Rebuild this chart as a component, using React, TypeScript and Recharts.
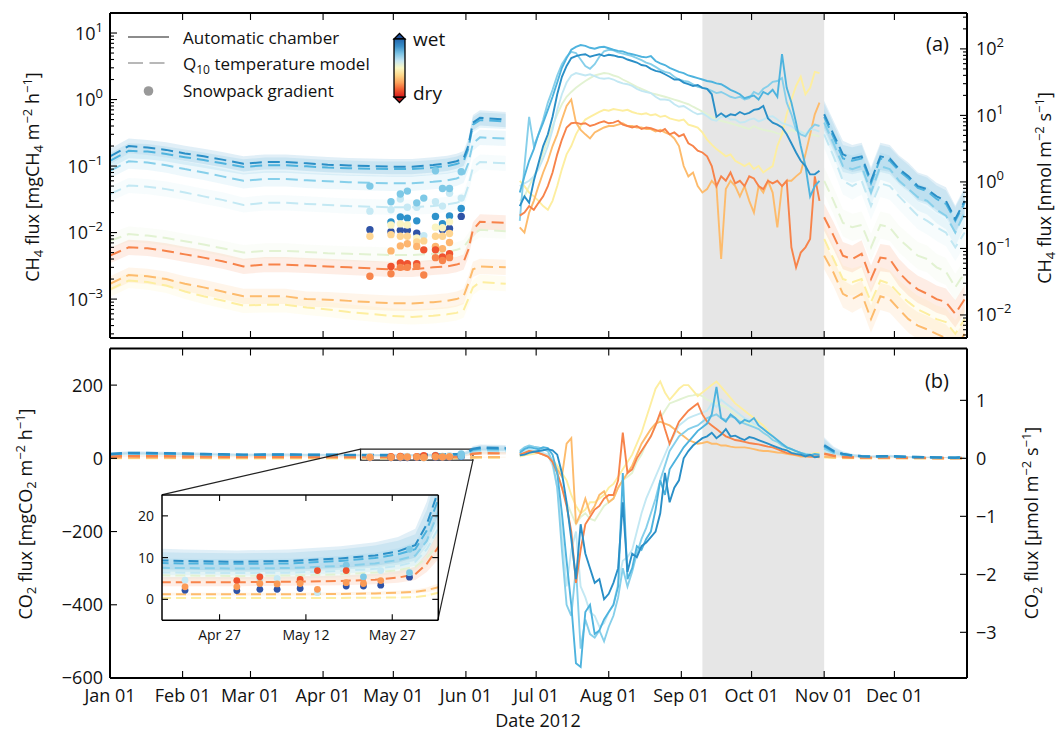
import React from 'react';
import {
  ComposedChart,
  Line,
  Area,
  Scatter,
  XAxis,
  YAxis,
  ReferenceArea,
  ReferenceLine,
} from 'recharts';

const FONT = '"Open Sans", "DejaVu Sans", sans-serif';
const W = 1058;
const H = 733;

// plot frames in page pixels
const PLOT_L = 110;
const PLOT_R = 967;
const TOP_Y0 = 13;
const TOP_Y1 = 338;
const BOT_Y0 = 348.5;
const BOT_Y1 = 678;
const TOP_H = 345;
const BOT_TOP = 340;
const BOT_H = 393;
const AX = 1; // axis thickness given to recharts (0 hides the axis)

const NMOL_PER_MG_CH4 = 17.32; // mg CH4 m-2 h-1 -> nmol m-2 s-1
const MG_PER_UMOL_CO2 = 158.4; // umol m-2 s-1 -> mg CO2 m-2 h-1

const DAY_DOMAIN: [number, number] = [0, 366];
const CH4_DOMAIN: [number, number] = [2.6e-4, 20];
const CH4R_DOMAIN: [number, number] = [CH4_DOMAIN[0] * NMOL_PER_MG_CH4, CH4_DOMAIN[1] * NMOL_PER_MG_CH4];
const CO2_DOMAIN: [number, number] = [-600, 300];
const CO2R_DOMAIN: [number, number] = [CO2_DOMAIN[0] / MG_PER_UMOL_CO2, CO2_DOMAIN[1] / MG_PER_UMOL_CO2];

const MONTH_DAYS = [0, 31, 60, 91, 121, 152, 182, 213, 244, 274, 305, 335];
const MONTH_LABELS = ['Jan 01', 'Feb 01', 'Mar 01', 'Apr 01', 'May 01', 'Jun 01', 'Jul 01', 'Aug 01', 'Sep 01', 'Oct 01', 'Nov 01', 'Dec 01'];
const CH4_MAJOR = [1e-3, 1e-2, 1e-1, 1, 10];
const CH4R_MAJOR = [1e-2, 1e-1, 1, 10, 100];
const CO2_TICKS = [-600, -400, -200, 0, 200];
const CO2R_TICKS = [-3, -2, -1, 0, 1];

const INSET_DAY_DOMAIN: [number, number] = [107, 155];
const INSET_CO2_DOMAIN: [number, number] = [-5, 25];
const INSET_DAY_TICKS = [117, 132, 147];
const INSET_DAY_LABELS = ['Apr 27', 'May 12', 'May 27'];
const INSET_CO2_TICKS = [0, 10, 20];
// where the inset axes sit, in data units of panel (b)
const INSET_AT = { x1: 22, x2: 140, y1: -100, y2: -442 };

const SHADE = [253, 305];

// chambers, wet -> dry
const CHAMBER_COLORS = ['#2a8fc7', '#4eb3de', '#86cfea', '#c3e8f3', '#e2f2d2', '#fdeea0', '#fdbb6c', '#f7834a'];
const DRAW_ORDER = [4, 5, 6, 3, 2, 7, 1, 0];
const BAND_SPRING = 1.3;
const BAND_AUTUMN = 1.6;

const SPRING_DAYS = [0, 8, 16, 24, 32, 40, 48, 57, 66, 75, 84, 93, 102, 111, 120, 129, 138, 144, 148, 151, 153, 155, 158, 169];
const SUMMER_DAYS = [175, 177, 179, 181, 183, 185, 187, 189, 191, 193, 195, 197, 199, 201, 203, 205, 207, 209, 211, 213, 215, 217, 219, 221, 223, 225, 227, 229, 231, 233, 235, 237, 239, 241, 243, 245, 247, 249, 251, 253, 255, 257, 259, 261, 263, 265, 267, 269, 271, 273, 275, 277, 279, 281, 283, 285, 287, 289, 291, 293, 295, 297, 299, 301, 303];
const AUTUMN_DAYS = [305, 309, 313, 317, 321, 325, 329, 333, 337, 341, 345, 349, 353, 357, 361, 365];

// Q10 model, CH4 [mg m-2 h-1], one row per chamber
const CH4_MODEL_SPRING = [
  [0.14, 0.2, 0.19, 0.175, 0.155, 0.14, 0.125, 0.108, 0.115, 0.115, 0.11, 0.105, 0.102, 0.1, 0.098, 0.098, 0.104, 0.11, 0.118, 0.13, 0.2, 0.45, 0.53, 0.5],
  [0.12, 0.17, 0.165, 0.152, 0.136, 0.123, 0.11, 0.097, 0.103, 0.103, 0.099, 0.095, 0.093, 0.091, 0.09, 0.09, 0.095, 0.1, 0.107, 0.118, 0.18, 0.42, 0.49, 0.47],
  [0.085, 0.118, 0.113, 0.103, 0.09, 0.08, 0.07, 0.06, 0.064, 0.064, 0.061, 0.059, 0.057, 0.056, 0.055, 0.055, 0.058, 0.061, 0.065, 0.072, 0.11, 0.22, 0.27, 0.26],
  [0.038, 0.051, 0.049, 0.045, 0.04, 0.035, 0.031, 0.026, 0.028, 0.028, 0.027, 0.026, 0.025, 0.0245, 0.024, 0.024, 0.025, 0.0265, 0.028, 0.031, 0.05, 0.095, 0.115, 0.11],
  [0.0075, 0.0095, 0.009, 0.0083, 0.0074, 0.0066, 0.0058, 0.005, 0.0053, 0.0053, 0.0051, 0.0049, 0.0048, 0.0047, 0.0046, 0.0046, 0.0048, 0.0051, 0.0055, 0.006, 0.0075, 0.0095, 0.011, 0.0105],
  [0.0014, 0.0019, 0.0018, 0.0016, 0.0013, 0.0011, 0.00095, 0.0008, 0.00082, 0.00082, 0.00075, 0.0007, 0.00064, 0.0006, 0.00056, 0.00054, 0.00056, 0.00059, 0.00062, 0.00068, 0.001, 0.0015, 0.0018, 0.0017],
  [0.0017, 0.0023, 0.0022, 0.002, 0.0017, 0.0015, 0.0013, 0.0011, 0.0011, 0.0011, 0.001, 0.00098, 0.00094, 0.0009, 0.00087, 0.00086, 0.0009, 0.00094, 0.001, 0.0011, 0.0017, 0.0028, 0.0031, 0.003],
  [0.0045, 0.006, 0.0058, 0.0053, 0.0047, 0.0042, 0.0037, 0.0031, 0.0033, 0.0033, 0.0032, 0.0031, 0.003, 0.0029, 0.0028, 0.0028, 0.003, 0.0031, 0.0033, 0.0036, 0.0055, 0.011, 0.0145, 0.014],
];
const CH4_MODEL_AUTUMN = [
  [0.6, 0.3, 0.15, 0.13, 0.14, 0.06, 0.14, 0.13, 0.09, 0.07, 0.05, 0.045, 0.035, 0.03, 0.016, 0.03],
  [0.55, 0.27, 0.13, 0.12, 0.13, 0.055, 0.13, 0.12, 0.085, 0.065, 0.047, 0.042, 0.032, 0.027, 0.015, 0.028],
  [0.45, 0.22, 0.1, 0.09, 0.1, 0.04, 0.1, 0.09, 0.06, 0.045, 0.034, 0.03, 0.022, 0.018, 0.01, 0.02],
  [0.3, 0.14, 0.06, 0.05, 0.06, 0.025, 0.055, 0.05, 0.035, 0.025, 0.018, 0.015, 0.012, 0.01, 0.006, 0.01],
  [0.06, 0.03, 0.014, 0.012, 0.013, 0.006, 0.013, 0.012, 0.008, 0.006, 0.0045, 0.004, 0.003, 0.0026, 0.0015, 0.0025],
  [0.008, 0.004, 0.002, 0.0018, 0.002, 0.0009, 0.0019, 0.0017, 0.0012, 0.0009, 0.0007, 0.0006, 0.0005, 0.00045, 0.0003, 0.0005],
  [0.0045, 0.0025, 0.0012, 0.001, 0.0012, 0.0005, 0.0011, 0.001, 0.0007, 0.0005, 0.0004, 0.00035, 0.0003, 0.00026, 0.00018, 0.0003],
  [0.017, 0.009, 0.0045, 0.004, 0.0048, 0.002, 0.0042, 0.004, 0.0025, 0.0018, 0.0014, 0.0012, 0.001, 0.0009, 0.0006, 0.001],
];
// automatic chambers, CH4 [mg m-2 h-1], every second day
const CH4_CHAMBER = [
  [0.025, 0.035, 0.028, 0.06, 0.11, 0.2, 0.3, 0.55, 1.2, 2.2,
    3.2, 4.2, 4.5, 4.7, 4.8, 4.4, 4.6, 4.8, 4.5, 4.7,
    4.6, 4.4, 4.3, 4.0, 3.8, 3.6, 3.3, 3.2, 2.9, 2.7,
    2.6, 2.4, 2.2, 2.0, 2.0, 1.8, 1.7, 1.6, 1.65, 1.5,
    1.45, 1.2, 0.55, 0.62, 0.55, 0.6, 0.58, 0.65, 0.6, 0.63,
    0.7, 0.72, 0.8, 0.52, 0.45, 0.42, 0.38, 0.3, 0.22, 0.16,
    0.12, 0.1, 0.075, 0.075, 0.085],
  [0.04, 0.07, 0.12, 0.18, 0.3, 0.45, 0.7, 1.1, 1.8, 3.0,
    4.2, 5.6, 6.2, 6.6, 6.4, 6.0, 5.8, 6.1, 6.2, 5.9,
    5.6, 5.4, 5.3, 5.0, 4.8, 4.6, 4.4, 4.3, 4.5, 3.8,
    3.5, 3.3, 3.0, 2.8, 2.6, 2.5, 2.3, 2.2, 2.1, 2.0,
    1.9, 1.85, 1.75, 1.7, 1.55, 1.4, 1.3, 1.2, 1.05, 1.1,
    1.15, 1.0, 1.3, 1.2, 1.4, 1.1, 4.8, 1.5, 0.9, 0.45,
    0.2, 0.1, 0.035, 0.05, 0.06],
  [0.015, 0.1, 0.55, 0.2, 0.3, 0.5, 0.9, 1.4, 2.3, 3.4,
    4.4, 5.2, 5.0, 4.0, 3.2, 2.9, 3.4, 4.4, 5.3, 5.6,
    5.5, 5.1, 4.9, 4.7, 4.5, 4.2, 3.9, 3.6, 3.4, 3.1,
    2.8, 2.6, 2.5, 2.2, 2.0, 1.9, 1.85, 1.7, 1.55, 1.5,
    1.45, 1.35, 1.25, 1.3, 1.2, 1.1, 1.05, 1.1, 1.0, 1.05,
    1.3, 1.2, 1.45, 1.6, 1.85, 1.9, 2.1, 0.9, 0.6, 0.35,
    0.3, 0.28, 0.36, 0.42, 0.4],
  [0.05, 0.055, 0.06, 0.07, 0.09, 0.13, 0.2, 0.35, 0.7, 1.2,
    1.8, 2.3, 2.5, 2.4, 2.3, 2.4, 2.25, 2.1, 2.05, 2.1,
    2.0, 1.85, 1.75, 1.7, 1.6, 1.45, 1.35, 1.3, 1.25, 1.1,
    1.0, 1.0, 0.97, 0.85, 0.78, 0.8, 0.72, 0.65, 0.6, 0.62,
    0.56, 0.5, 0.48, 0.55, 0.56, 0.5, 0.5, 0.45, 0.46, 0.5,
    0.52, 0.47, 0.5, 0.55, 0.56, 0.5, 0.44, 0.42, 0.4, 0.35,
    0.33, 0.3, 0.36, 0.35, 0.33],
  [0.03, 0.035, 0.05, 0.07, 0.1, 0.16, 0.25, 0.4, 0.6, 0.85,
    1.1, 1.3, 1.5, 1.7, 1.9, 2.1, 2.3, 2.4, 2.5, 2.45,
    2.3, 2.2, 2.0, 1.85, 1.7, 1.55, 1.45, 1.35, 1.25, 1.2,
    1.15, 1.1, 1.05, 1.0, 0.95, 0.9, 0.85, 0.78, 0.72, 0.66,
    0.6, 0.55, 0.5, 0.48, 0.46, 0.44, 0.42, 0.4, 0.38, 0.36,
    0.4, 0.37, 0.35, 0.34, 0.33, 0.31, 0.3, 0.32, 0.35, 0.33,
    0.33, 0.31, 0.3, 0.29, 0.28],
  [0.06, 0.05, 0.04, 0.035, 0.03, 0.025, 0.022, 0.03, 0.05, 0.09,
    0.15, 0.2, 0.3, 0.4, 0.5, 0.55, 0.6, 0.65, 0.7, 0.68,
    0.72, 0.7, 0.68, 0.7, 0.65, 0.62, 0.6, 0.62, 0.58, 0.6,
    0.55, 0.57, 0.52, 0.5, 0.48, 0.5, 0.42, 0.4, 0.38, 0.32,
    0.25, 0.21, 0.18, 0.16, 0.14, 0.15, 0.12, 0.11, 0.1, 0.11,
    0.09, 0.1, 0.08, 0.09, 0.1, 0.2, 0.3, 0.6, 1.0, 1.6,
    2.2, 1.2, 1.5, 2.6, 2.5],
  [0.012, 0.01, 0.02, 0.03, 0.05, 0.08, 0.12, 0.2, 0.3, 0.5,
    0.8, 1.0, 0.45, 0.35, 0.3, 0.26, 0.32, 0.35, 0.38, 0.4,
    0.4, 0.42, 0.44, 0.4, 0.4, 0.38, 0.38, 0.36, 0.36, 0.33,
    0.35, 0.32, 0.3, 0.26, 0.2, 0.1, 0.07, 0.08, 0.05, 0.04,
    0.045, 0.06, 0.05, 0.004, 0.045, 0.06, 0.05, 0.035, 0.05, 0.03,
    0.02, 0.05, 0.04, 0.06, 0.04, 0.012, 0.05, 0.06, 0.06, 0.07,
    0.08, 0.15, 0.3, 0.6, 0.9],
  [0.018, 0.02, 0.025, 0.022, 0.028, 0.035, 0.05, 0.08, 0.15, 0.25,
    0.38, 0.44, 0.45, 0.43, 0.44, 0.4, 0.42, 0.45, 0.47, 0.44,
    0.45, 0.48, 0.42, 0.4, 0.38, 0.4, 0.36, 0.38, 0.37, 0.35,
    0.33, 0.36, 0.3, 0.32, 0.28, 0.3, 0.22, 0.2, 0.17, 0.16,
    0.14, 0.1, 0.05, 0.07, 0.06, 0.08, 0.055, 0.06, 0.05, 0.07,
    0.065, 0.05, 0.045, 0.06, 0.055, 0.06, 0.05, 0.06, 0.006, 0.003,
    0.005, 0.006, 0.008, 0.07, 0.03],
];

// Q10 model, CO2 [mg m-2 h-1]
const CO2_MODEL_SPRING = [
  [12, 15, 14.5, 14, 13, 12, 11, 10, 10.5, 10.5, 10, 9.8, 9.5, 9.2, 9, 9.2, 9.8, 10.5, 11.5, 13, 18, 26, 29, 28],
  [11, 14, 13.5, 13, 12, 11, 10, 9.3, 9.7, 9.7, 9.3, 9, 8.8, 8.6, 8.5, 8.6, 9.2, 9.9, 10.8, 12, 16.5, 24, 27, 26],
  [10, 12, 11.5, 11, 10.3, 9.5, 8.7, 8, 8.3, 8.3, 8, 7.8, 7.6, 7.5, 7.4, 7.5, 8, 8.6, 9.4, 10.5, 14, 21, 23, 22],
  [8.5, 10, 9.8, 9.3, 8.7, 8, 7.3, 6.8, 7, 7, 6.8, 6.6, 6.5, 6.4, 6.3, 6.4, 6.8, 7.3, 8, 9, 12, 17, 19, 18],
  [7.5, 9, 8.7, 8.3, 7.7, 7.1, 6.5, 6, 6.2, 6.2, 6, 5.9, 5.8, 5.7, 5.6, 5.7, 6, 6.4, 7, 7.8, 10, 13, 14.5, 14],
  [0.5, 0.7, 0.6, 0.55, 0.5, 0.45, 0.4, 0.35, 0.37, 0.37, 0.35, 0.34, 0.33, 0.32, 0.31, 0.31, 0.34, 0.38, 0.45, 0.55, 0.9, 1.6, 1.9, 1.8],
  [1.6, 2, 1.9, 1.8, 1.6, 1.5, 1.4, 1.3, 1.3, 1.3, 1.3, 1.2, 1.2, 1.2, 1.2, 1.2, 1.3, 1.4, 1.6, 1.8, 2.2, 2.9, 3.3, 3.2],
  [5, 6, 5.8, 5.5, 5.1, 4.8, 4.5, 4.2, 4.3, 4.3, 4.2, 4.1, 4.1, 4.1, 4.1, 4.2, 4.4, 4.7, 5.2, 6, 8.5, 12.5, 14, 13.5],
];
const CO2_MODEL_AUTUMN = [
  [36, 20, 12, 8, 6, 5, 5.5, 6, 5, 4, 3.5, 3, 2.5, 2, 1.5, 3],
  [33, 18, 11, 7.5, 5.6, 4.7, 5, 5.5, 4.6, 3.7, 3.2, 2.8, 2.3, 1.9, 1.4, 2.8],
  [28, 15, 9, 6.3, 4.7, 4, 4.3, 4.7, 4, 3.2, 2.8, 2.4, 2, 1.6, 1.2, 2.4],
  [22, 12, 7.3, 5, 3.8, 3.2, 3.5, 3.8, 3.2, 2.6, 2.2, 1.9, 1.6, 1.3, 1, 1.9],
  [17, 9.5, 5.8, 4, 3, 2.6, 2.8, 3, 2.6, 2.1, 1.8, 1.5, 1.3, 1.1, 0.8, 1.5],
  [3, 1.7, 1, 0.7, 0.55, 0.48, 0.5, 0.55, 0.48, 0.4, 0.34, 0.3, 0.25, 0.2, 0.15, 0.3],
  [5, 2.8, 1.7, 1.2, 0.9, 0.8, 0.85, 0.9, 0.8, 0.65, 0.55, 0.5, 0.4, 0.35, 0.25, 0.5],
  [13, 7, 4.3, 3, 2.3, 2, 2.1, 2.3, 2, 1.6, 1.4, 1.2, 1, 0.8, 0.6, 1.2],
];
// automatic chambers, CO2 [mg m-2 h-1], every second day
const CO2_CHAMBER = [
  [8, 10, 15, 18, 20, 22, 25, 22, 10, -40,
    -120, -220, -330, -180, -260, -300, -340, -330, -385, -370,
    -340, -300, -120, -310, -260, -270, -240, -230, -215, -200,
    -150, -40, -120, -80, -60, 0, 20, 35, 45, 55,
    60, 70, 55, 65, 80, 60, 62, 55, 50, 58,
    55, 50, 45, 40, 35, 30, 25, 22, 15, 12,
    10, 5, 10, 3, 5],
  [15, 25, 30, 28, 25, 30, 28, 10, -40, -150,
    -280, -400, -560, -570, -420, -400, -480, -470, -440, -420,
    -400, -350, -40, -330, -300, -240, -250, -220, -200, -140,
    -60, -100, -30, -10, 10, 30, 45, 60, 75, 85,
    95, 120, 195, 110, 100, 120, 110, 95, 105, 100,
    110, 90, 80, 70, 60, 50, 40, 30, 25, 20,
    15, 10, 8, 12, 10],
  [20, 30, 35, 32, 30, 25, 20, -10, -80, -250,
    -400, -430, -300, -520, -440, -480, -490, -470, -500, -460,
    -430, -380, -300, -350, -310, -260, -220, -190, -150, -110,
    -60, -20, 20, 40, 60, 70, 80, 85, 90, 100,
    110, 115, 120, 110, 105, 115, 110, 100, 95, 90,
    85, 80, 70, 62, 50, 45, 35, 30, 25, 20,
    15, 12, 10, 9, 8],
  [15, 20, 25, 22, 20, 15, 10, -20, -80, -200,
    -350, -250, -200, -350, -380, -420, -430, -460, -450, -420,
    -400, -340, -280, -270, -250, -200, -150, -110, -80, -50,
    -20, 10, 40, 65, 90, 100, 110, 115, 120, 125,
    130, 150, 140, 160, 150, 140, 130, 120, 110, 105,
    95, 90, 80, 70, 60, 50, 40, 32, 25, 20,
    15, 12, 10, 10, 10],
  [10, 15, 20, 18, 15, 10, 5, -10, -40, -80,
    -120, -150, -180, -160, -150, -165, -170, -150, -130, -120,
    -110, -80, -60, -50, -40, -10, 10, 40, 60, 90,
    110, 130, 150, 155, 160, 165, 170, 172, 175, 170,
    160, 155, 150, 145, 140, 130, 120, 110, 100, 95,
    90, 80, 70, 60, 50, 42, 35, 28, 20, 15,
    12, 10, 8, 6, 5],
  [5, 8, 10, 12, 15, 12, 10, -5, -20, -40,
    -60, -100, -130, -150, -140, -120, -120, -110, -100, -80,
    -70, -50, -30, -10, 10, 40, 70, 110, 150, 190,
    210, 180, 160, 175, 190, 200, 200, 185, 170, 180,
    190, 200, 210, 195, 180, 165, 150, 140, 130, 120,
    110, 100, 90, 75, 60, 50, 40, 32, 25, 20,
    15, 12, 10, 15, 15],
  [12, 15, 20, 18, 15, 10, 5, -10, -30, -50,
    40, 55, -180, -150, -110, -150, -130, -100, -90, -120,
    -110, -80, -60, -40, -20, 10, 40, 60, 80, 95,
    100, 95, 90, 80, 70, 60, 50, 45, 40, 42,
    45, 40, 40, 35, 35, 32, 30, 30, 30, 28,
    25, 22, 20, 20, 18, 16, 15, 12, 10, 8,
    5, 5, 5, 4, 3],
  [10, 15, 20, 18, 15, 10, 5, -10, -40, -80,
    -130, -200, -340, -250, -180, -160, -140, -130, -110, -100,
    -100, -60, 70, -40, -30, 0, 20, 40, 60, 90,
    125, 80, 40, 70, 100, 115, 130, 140, 150, 120,
    100, 90, 80, 70, 60, 55, 50, 48, 45, 42,
    40, 38, 35, 32, 30, 25, 20, 15, 12, 10,
    8, 6, 5, 5, 5],
];

// snowpack gradient points [day, flux]
const SNOW_CH4_PALECYAN = [[111, 0.021], [120, 0.022], [124, 0.032], [127, 0.024], [131, 0.024], [134, 0.009], [139, 0.029], [142, 0.025], [145, 0.039], [150, 0.033]];
const SNOW_CH4_LIGHTBLUE = [[111, 0.05], [120, 0.029], [124, 0.038], [127, 0.042], [131, 0.028], [134, 0.033], [139, 0.085], [142, 0.046], [145, 0.046], [150, 0.082]];
const SNOW_CH4_BLUE = [[120, 0.0145], [124, 0.0172], [127, 0.0165], [131, 0.015], [139, 0.0175], [142, 0.0136], [145, 0.0178], [150, 0.023]];
const SNOW_CH4_NAVY = [[111, 0.011], [120, 0.0103], [124, 0.0108], [127, 0.0108], [131, 0.0098], [142, 0.011], [145, 0.0115], [150, 0.0175]];
const SNOW_CH4_PALEYELLOW = [[120, 0.013], [124, 0.0135], [127, 0.013], [131, 0.0083], [139, 0.012], [142, 0.0118], [145, 0.0145]];
const SNOW_CH4_PALEORANGE = [[111, 0.0088], [120, 0.0093], [124, 0.0088], [127, 0.0088], [131, 0.0072], [134, 0.0075], [139, 0.0088], [142, 0.0088], [145, 0.0097]];
const SNOW_CH4_LIGHTORANGE = [[120, 0.0053], [124, 0.0063], [127, 0.0068], [131, 0.0062], [139, 0.0062], [142, 0.0057], [145, 0.0071]];
const SNOW_CH4_RED = [[120, 0.0031], [124, 0.0035], [127, 0.0034], [131, 0.0034], [134, 0.0055], [139, 0.0055], [142, 0.0043], [145, 0.0048]];
const SNOW_CH4_ORANGE = [[111, 0.0022], [120, 0.0024], [124, 0.003], [127, 0.003], [131, 0.0031], [134, 0.0023], [139, 0.0042], [142, 0.0038], [145, 0.0042]];

const SNOW_CO2_NAVY = [[111, 2.2], [120, 2.1], [124, 2.4], [127, 2.4], [131, 2.6], [139, 3.2], [142, 3.2], [145, 3.4], [150, 5.3]];
const SNOW_CO2_LIGHTBLUE = [[139, 8.2], [142, 5.4], [150, 12], [150, 6.4]];
const SNOW_CO2_PALECYAN = [[111, 4.6], [124, 4.8], [127, 5.0], [134, 1.6], [145, 6.9]];
const SNOW_CO2_RED = [[120, 4.5], [124, 5.4], [131, 4.8], [134, 6.9], [139, 6.9]];
const SNOW_CO2_ORANGE = [[111, 3.0], [120, 3.0], [124, 3.8], [127, 3.7], [131, 3.8], [134, 2.4], [139, 4.0], [142, 3.8], [145, 4.5]];

const SNOW_CH4 = [
  { pts: SNOW_CH4_PALECYAN, color: '#c6e9f4' },
  { pts: SNOW_CH4_LIGHTBLUE, color: '#7ec9e6' },
  { pts: SNOW_CH4_BLUE, color: '#2d92cb' },
  { pts: SNOW_CH4_NAVY, color: '#2f53a6' },
  { pts: SNOW_CH4_PALEYELLOW, color: '#faf4c2' },
  { pts: SNOW_CH4_PALEORANGE, color: '#fed592' },
  { pts: SNOW_CH4_LIGHTORANGE, color: '#fdb56f' },
  { pts: SNOW_CH4_RED, color: '#f0532f' },
  { pts: SNOW_CH4_ORANGE, color: '#f7844b' },
];
const SNOW_CO2 = [
  { pts: SNOW_CO2_NAVY, color: '#2f53a6' },
  { pts: SNOW_CO2_LIGHTBLUE, color: '#7ec9e6' },
  { pts: SNOW_CO2_PALECYAN, color: '#c6e9f4' },
  { pts: SNOW_CO2_RED, color: '#f0532f' },
  { pts: SNOW_CO2_ORANGE, color: '#fb9a55' },
];

const CBAR_STOPS = ['#2166ac', '#3a8fc8', '#7cc3e4', '#c6e6f2', '#fbf8c4', '#fdd78a', '#fca35c', '#f0592f', '#d7191c'];

// minor ticks for the log axes
function logTicks(domain: [number, number], majors: number[]) {
  const out: number[] = [];
  for (let e = -5; e <= 3; e++) {
    for (let m = 1; m <= 9; m++) {
      const v = m * Math.pow(10, e);
      if (v > domain[0] && v < domain[1]) {
        const maj = majors.find(x => Math.abs(x - v) < x * 1e-9);
        out.push(maj ?? v);
      }
    }
  }
  return out;
}
const CH4_TICKS = logTicks(CH4_DOMAIN, CH4_MAJOR);
const CH4R_TICKS = logTicks(CH4R_DOMAIN, CH4R_MAJOR);

const pts = (days: number[], vals: number[]) => days.map((d, i) => ({ day: d, v: vals[i] }));
const bandPts = (days: number[], vals: number[], f: number) =>
  days.map((d, i) => ({ day: d, band: [vals[i] / f, vals[i] * f] }));
const pairs = (p: number[][]) => p.map(([d, v]) => ({ day: d, v }));

const dayToPx = (d: number) => PLOT_L + ((d - DAY_DOMAIN[0]) / (DAY_DOMAIN[1] - DAY_DOMAIN[0])) * (PLOT_R - PLOT_L);
const co2ToPy = (v: number) => BOT_Y0 + ((CO2_DOMAIN[1] - v) / (CO2_DOMAIN[1] - CO2_DOMAIN[0])) * (BOT_Y1 - BOT_Y0);

const minus = (v: number) => (v < 0 ? `\u2212${-v}` : `${v}`);
const logLabel = (v: number) => {
  const e = Math.round(Math.log10(v));
  return (
    <>
      <tspan>10</tspan>
      <tspan dy={-8} fontSize={13}>{minus(e)}</tspan>
    </>
  );
};

type Side = 'left' | 'right' | 'top' | 'bottom';
interface TickOpts {
  majors?: number[];
  len?: number;
  minorLen?: number;
  fontSize?: number;
  gap?: number;
  label?: (v: number) => React.ReactNode;
}

// ticks point inwards, labels sit outside
function makeTick(side: Side, o: TickOpts = {}) {
  const len = o.len ?? 7;
  const minorLen = o.minorLen ?? 4;
  const fs = o.fontSize ?? 18;
  const gap = o.gap ?? 7;
  return (p: any) => {
    const x = Number(p.x);
    const y = Number(p.y);
    const v = p.payload ? p.payload.value : 0;
    const major = !o.majors || o.majors.indexOf(v) >= 0;
    const L = major ? len : minorLen;
    const txt = major && o.label ? o.label(v) : null;
    const common = { fontSize: fs, fontFamily: FONT, fill: '#111' };
    let line: React.ReactNode = null;
    let text: React.ReactNode = null;
    if (side === 'left') {
      line = <line x1={x} y1={y} x2={x + L} y2={y} stroke="#000" strokeWidth={1.1} />;
      if (txt !== null) text = <text x={x - gap} y={y + fs * 0.36} textAnchor="end" {...common}>{txt}</text>;
    } else if (side === 'right') {
      line = <line x1={x} y1={y} x2={x - L} y2={y} stroke="#000" strokeWidth={1.1} />;
      if (txt !== null) text = <text x={x + gap} y={y + fs * 0.36} textAnchor="start" {...common}>{txt}</text>;
    } else if (side === 'bottom') {
      line = <line x1={x} y1={y} x2={x} y2={y - L} stroke="#000" strokeWidth={1.1} />;
      if (txt !== null) text = <text x={x} y={y + gap + fs * 0.72} textAnchor="middle" {...common}>{txt}</text>;
    } else {
      line = <line x1={x} y1={y} x2={x} y2={y + L} stroke="#000" strokeWidth={1.1} />;
    }
    return (
      <g>
        {line}
        {text}
      </g>
    );
  };
}

const AXIS_LINE = { stroke: '#000', strokeWidth: 2 };
const NO_TICK = { tickSize: 0, tickMargin: 0, tickLine: false, interval: 0 as const };

// chart margins so that the plot frame lands on the given page pixels
const frameMargin = (x0: number, x1: number, y0: number, y1: number, w: number, h: number) => ({
  top: y0 - AX,
  bottom: h - y1 - AX,
  left: x0 - AX,
  right: w - x1 - AX,
});

function modelSeries(
  prefix: string,
  spring: number[][],
  autumn: number[][] | null,
  dash: string,
  width: number,
) {
  const out: React.ReactNode[] = [];
  DRAW_ORDER.forEach(c => {
    out.push(
      <Area key={`${prefix}bs${c}`} xAxisId="b" yAxisId="l" data={bandPts(SPRING_DAYS, spring[c], BAND_SPRING)}
        dataKey="band" stroke="none" fill={CHAMBER_COLORS[c]} fillOpacity={0.14} dot={false} activeDot={false}
        isAnimationActive={false} />,
    );
    if (autumn)
      out.push(
        <Area key={`${prefix}ba${c}`} xAxisId="b" yAxisId="l" data={bandPts(AUTUMN_DAYS, autumn[c], BAND_AUTUMN)}
          dataKey="band" stroke="none" fill={CHAMBER_COLORS[c]} fillOpacity={0.14} dot={false} activeDot={false}
          isAnimationActive={false} />,
      );
  });
  DRAW_ORDER.forEach(c => {
    out.push(
      <Line key={`${prefix}ms${c}`} xAxisId="b" yAxisId="l" data={pts(SPRING_DAYS, spring[c])} dataKey="v"
        stroke={CHAMBER_COLORS[c]} strokeWidth={width} strokeDasharray={dash} dot={false} activeDot={false}
        isAnimationActive={false} />,
    );
    if (autumn)
      out.push(
        <Line key={`${prefix}ma${c}`} xAxisId="b" yAxisId="l" data={pts(AUTUMN_DAYS, autumn[c])} dataKey="v"
          stroke={CHAMBER_COLORS[c]} strokeWidth={width} strokeDasharray={dash} dot={false} activeDot={false}
          isAnimationActive={false} />,
      );
  });
  return out;
}

function chamberSeries(prefix: string, rows: number[][]) {
  return DRAW_ORDER.map(c => (
    <Line key={`${prefix}c${c}`} xAxisId="b" yAxisId="l" data={pts(SUMMER_DAYS, rows[c])} dataKey="v"
      stroke={CHAMBER_COLORS[c]} strokeWidth={1.9} dot={false} activeDot={false} isAnimationActive={false} />
  ));
}

function snowSeries(prefix: string, groups: { pts: number[][]; color: string }[], r: number) {
  return groups.map((g, i) => (
    <Scatter key={`${prefix}s${i}`} xAxisId="b" yAxisId="l" data={pairs(g.pts)} dataKey="v" isAnimationActive={false}
      shape={(p: any) => <circle cx={p.cx} cy={p.cy} r={r} fill={g.color} stroke="none" />} />
  ));
}

type Part = { t: string; sub?: boolean; sup?: boolean };
function Rich({ parts, small }: { parts: Part[]; small: number }) {
  let cur = 0;
  return (
    <>
      {parts.map((p, i) => {
        const target = p.sub ? 4 : p.sup ? -7 : 0;
        const dy = target - cur;
        cur = target;
        return (
          <tspan key={i} dy={dy} fontSize={p.sub || p.sup ? small : undefined}>
            {p.t}
          </tspan>
        );
      })}
    </>
  );
}

function VLabel({ cx, cy, parts }: { cx: number; cy: number; parts: Part[] }) {
  return (
    <g transform={`translate(${cx},${cy}) rotate(-90)`}>
      <text x={0} y={6} textAnchor="middle" fontSize={18} fontFamily={FONT} fill="#111">
        <Rich parts={parts} small={13} />
      </text>
    </g>
  );
}

export default function App() {
  const insetL = dayToPx(INSET_AT.x1);
  const insetR = dayToPx(INSET_AT.x2);
  const insetT = co2ToPy(INSET_AT.y1);
  const insetB = co2ToPy(INSET_AT.y2);
  const IP = { top: 8, right: 8, bottom: 34, left: 40 };
  const insetW = insetR - insetL + IP.left + IP.right;
  const insetH = insetB - insetT + IP.top + IP.bottom;
  const thin = { stroke: '#000', strokeWidth: 1.5 };

  return (
    <div style={{ position: 'absolute', left: 0, top: 0, width: W, height: H, background: '#fff', overflow: 'hidden' }}>
      {/* (a) CH4 */}
      <div style={{ position: 'absolute', left: 0, top: 0 }}>
        <ComposedChart width={W} height={TOP_H} margin={frameMargin(PLOT_L, PLOT_R, TOP_Y0, TOP_Y1, W, TOP_H)}>
          <ReferenceArea xAxisId="b" yAxisId="l" x1={SHADE[0]} x2={SHADE[1]} fill="#e6e6e6" fillOpacity={1} stroke="none" />
          {modelSeries('a', CH4_MODEL_SPRING, CH4_MODEL_AUTUMN, '12 6', 2)}
          {snowSeries('a', SNOW_CH4, 3.7)}
          {chamberSeries('a', CH4_CHAMBER)}
          <XAxis xAxisId="b" type="number" dataKey="day" domain={DAY_DOMAIN} allowDataOverflow ticks={MONTH_DAYS}
            height={AX} {...NO_TICK} axisLine={AXIS_LINE} tick={makeTick('bottom')} />
          <XAxis xAxisId="t" orientation="top" type="number" dataKey="day" domain={DAY_DOMAIN} allowDataOverflow
            ticks={MONTH_DAYS} height={AX} {...NO_TICK} axisLine={AXIS_LINE} tick={makeTick('top')} />
          <YAxis yAxisId="l" type="number" scale="log" domain={CH4_DOMAIN} allowDataOverflow ticks={CH4_TICKS}
            width={AX} {...NO_TICK} axisLine={AXIS_LINE}
            tick={makeTick('left', { majors: CH4_MAJOR, label: logLabel })} />
          <YAxis yAxisId="r" orientation="right" type="number" scale="log" domain={CH4R_DOMAIN} allowDataOverflow
            ticks={CH4R_TICKS} width={AX} {...NO_TICK} axisLine={AXIS_LINE}
            tick={makeTick('right', { majors: CH4R_MAJOR, label: logLabel, gap: 9 })} />
        </ComposedChart>
      </div>

      {/* (b) CO2 */}
      <div style={{ position: 'absolute', left: 0, top: BOT_TOP }}>
        <ComposedChart width={W} height={BOT_H}
          margin={frameMargin(PLOT_L, PLOT_R, BOT_Y0 - BOT_TOP, BOT_Y1 - BOT_TOP, W, BOT_H)}>
          <ReferenceArea xAxisId="b" yAxisId="l" x1={SHADE[0]} x2={SHADE[1]} fill="#e6e6e6" fillOpacity={1} stroke="none" />
          {modelSeries('b', CO2_MODEL_SPRING, CO2_MODEL_AUTUMN, '12 6', 2.4)}
          {snowSeries('b', SNOW_CO2, 3.7)}
          {chamberSeries('b', CO2_CHAMBER)}
          <ReferenceArea xAxisId="b" yAxisId="l" x1={INSET_DAY_DOMAIN[0]} x2={INSET_DAY_DOMAIN[1]}
            y1={INSET_CO2_DOMAIN[0]} y2={INSET_CO2_DOMAIN[1]} fill="#fff" fillOpacity={0} stroke="#222" strokeWidth={1.2} />
          <ReferenceLine xAxisId="b" yAxisId="l" stroke="#222" strokeWidth={1.2}
            segment={[{ x: INSET_DAY_DOMAIN[0], y: INSET_CO2_DOMAIN[1] }, { x: INSET_AT.x1, y: INSET_AT.y1 }]} />
          <ReferenceLine xAxisId="b" yAxisId="l" stroke="#222" strokeWidth={1.2}
            segment={[{ x: INSET_DAY_DOMAIN[1], y: INSET_CO2_DOMAIN[0] }, { x: INSET_AT.x2, y: INSET_AT.y2 }]} />
          <XAxis xAxisId="b" type="number" dataKey="day" domain={DAY_DOMAIN} allowDataOverflow ticks={MONTH_DAYS}
            height={AX} {...NO_TICK} axisLine={AXIS_LINE}
            tick={makeTick('bottom', { gap: 11, label: v => MONTH_LABELS[MONTH_DAYS.indexOf(v)] })} />
          <XAxis xAxisId="t" orientation="top" type="number" dataKey="day" domain={DAY_DOMAIN} allowDataOverflow
            ticks={MONTH_DAYS} height={AX} {...NO_TICK} axisLine={AXIS_LINE} tick={makeTick('top')} />
          <YAxis yAxisId="l" type="number" domain={CO2_DOMAIN} allowDataOverflow ticks={CO2_TICKS} width={AX}
            {...NO_TICK} axisLine={AXIS_LINE} tick={makeTick('left', { label: minus })} />
          <YAxis yAxisId="r" orientation="right" type="number" domain={CO2R_DOMAIN} allowDataOverflow
            ticks={CO2R_TICKS} width={AX} {...NO_TICK} axisLine={AXIS_LINE}
            tick={makeTick('right', { label: minus, gap: 9 })} />
        </ComposedChart>
      </div>

      {/* inset */}
      <div style={{ position: 'absolute', left: insetL - IP.left, top: insetT - IP.top }}>
        <ComposedChart width={insetW} height={insetH}
          margin={frameMargin(IP.left, insetW - IP.right, IP.top, insetH - IP.bottom, insetW, insetH)}>
          {modelSeries('i', CO2_MODEL_SPRING, null, '10 5', 2)}
          {snowSeries('i', SNOW_CO2, 3.4)}
          <XAxis xAxisId="b" type="number" dataKey="day" domain={INSET_DAY_DOMAIN} allowDataOverflow
            ticks={INSET_DAY_TICKS} height={AX} {...NO_TICK} axisLine={thin}
            tick={makeTick('bottom', { len: 6, fontSize: 14, gap: 10, label: v => INSET_DAY_LABELS[INSET_DAY_TICKS.indexOf(v)] })} />
          <XAxis xAxisId="t" orientation="top" type="number" dataKey="day" domain={INSET_DAY_DOMAIN} allowDataOverflow
            ticks={INSET_DAY_TICKS} height={AX} {...NO_TICK} axisLine={thin} tick={makeTick('top', { len: 6 })} />
          <YAxis yAxisId="l" type="number" domain={INSET_CO2_DOMAIN} allowDataOverflow ticks={INSET_CO2_TICKS}
            width={AX} {...NO_TICK} axisLine={thin}
            tick={makeTick('left', { len: 6, fontSize: 14, gap: 8, label: minus })} />
          <YAxis yAxisId="r" orientation="right" type="number" domain={INSET_CO2_DOMAIN} allowDataOverflow
            ticks={INSET_CO2_TICKS} width={AX} {...NO_TICK} axisLine={thin} tick={makeTick('right', { len: 6 })} />
        </ComposedChart>
      </div>

      {/* titles, legend, colour bar */}
      <svg width={W} height={H} style={{ position: 'absolute', left: 0, top: 0, pointerEvents: 'none' }}>
        <defs>
          <linearGradient id="cbar" x1="0" y1="0" x2="0" y2="1">
            {CBAR_STOPS.map((c, i) => (
              <stop key={i} offset={i / (CBAR_STOPS.length - 1)} stopColor={c} />
            ))}
          </linearGradient>
        </defs>

        <VLabel cx={33} cy={177} parts={[
          { t: 'CH' }, { t: '4', sub: true }, { t: ' flux [mgCH' }, { t: '4', sub: true }, { t: ' m' },
          { t: '\u22122', sup: true }, { t: ' h' }, { t: '\u22121', sup: true }, { t: ']' },
        ]} />
        <VLabel cx={1045} cy={188} parts={[
          { t: 'CH' }, { t: '4', sub: true }, { t: ' flux [nmol m' }, { t: '\u22122', sup: true }, { t: ' s' },
          { t: '\u22121', sup: true }, { t: ']' },
        ]} />
        <VLabel cx={26} cy={514} parts={[
          { t: 'CO' }, { t: '2', sub: true }, { t: ' flux [mgCO' }, { t: '2', sub: true }, { t: ' m' },
          { t: '\u22122', sup: true }, { t: ' h' }, { t: '\u22121', sup: true }, { t: ']' },
        ]} />
        <VLabel cx={1032} cy={523} parts={[
          { t: 'CO' }, { t: '2', sub: true }, { t: ' flux [\u03bcmol m' }, { t: '\u22122', sup: true }, { t: ' s' },
          { t: '\u22121', sup: true }, { t: ']' },
        ]} />

        <text x={538} y={727} textAnchor="middle" fontSize={18} fontFamily={FONT} fill="#111">Date 2012</text>
        <text x={949} y={51} textAnchor="end" fontSize={20} fontFamily={FONT} fill="#111">(a)</text>
        <text x={949} y={388} textAnchor="end" fontSize={20} fontFamily={FONT} fill="#111">(b)</text>

        <line x1={128} y1={37} x2={169} y2={37} stroke="#8c8c8c" strokeWidth={2} />
        <text x={183} y={43.5} fontSize={17} fontFamily={FONT} fill="#111">Automatic chamber</text>
        <line x1={128} y1={63} x2={169} y2={63} stroke="#b8b8b8" strokeWidth={2} strokeDasharray="15 6.5" />
        <text x={183} y={69.5} fontSize={17} fontFamily={FONT} fill="#111">
          <Rich parts={[{ t: 'Q' }, { t: '10', sub: true }, { t: ' temperature model' }]} small={12} />
        </text>
        <circle cx={148.5} cy={91} r={4.8} fill="#999" />
        <text x={183} y={97} fontSize={17} fontFamily={FONT} fill="#111">Snowpack gradient</text>

        <polygon points="394,39 399.5,33.5 405,39" fill="#1f4f9a" stroke="#000" strokeWidth={1.3} />
        <polygon points="394,97 399.5,102.5 405,97" fill="#b8141a" stroke="#000" strokeWidth={1.3} />
        <rect x={394} y={39} width={11} height={58} fill="url(#cbar)" stroke="#000" strokeWidth={1.3} />
        <text x={413} y={46} fontSize={19} fontFamily={FONT} fill="#111">wet</text>
        <text x={413} y={100} fontSize={19} fontFamily={FONT} fill="#111">dry</text>
      </svg>
    </div>
  );
}
